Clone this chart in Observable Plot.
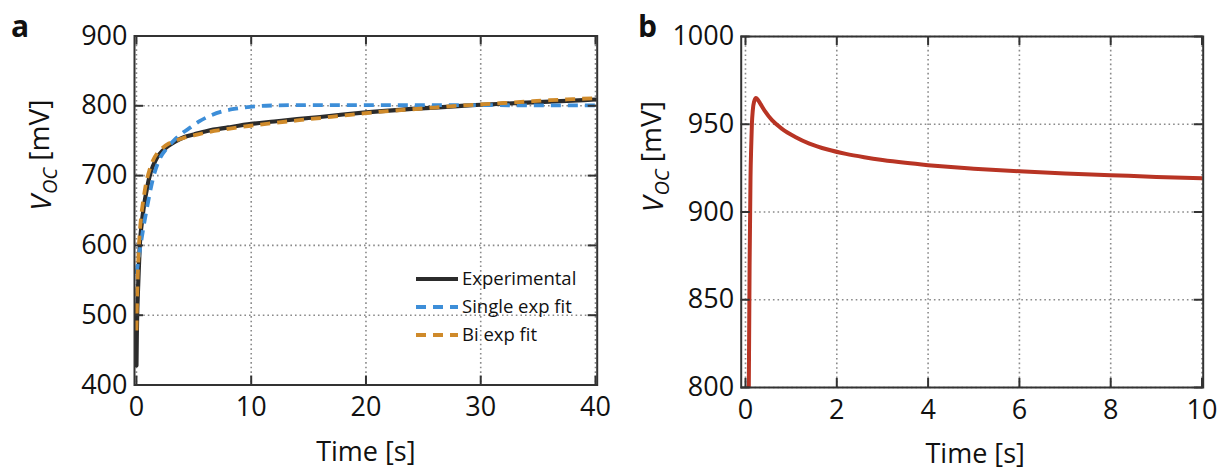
<!DOCTYPE html>
<html>
<head>
<meta charset="utf-8">
<script src="https://cdn.jsdelivr.net/npm/d3@7"></script>
<script src="https://cdn.jsdelivr.net/npm/@observablehq/plot@0.6"></script>
<style>
  body { margin: 0; background: #fff; }
  #wrap { display: flex; width: 1222px; height: 470px; }
  #wrap svg { display: block; }
</style>
</head>
<body>
<div id="wrap"></div>
<script>
// ---------- Tick labels ----------
const leftXTicks = [0, 10, 20, 30, 40];
const leftYTicks = [400, 500, 600, 700, 800, 900];
const rightXTicks = [0, 2, 4, 6, 8, 10];
const rightYTicks = [800, 850, 900, 950, 1000];

// ---------- Panel a: experimental ----------
const expTime = [0, 0.03, 0.06, 0.12, 0.2, 0.29, 0.45, 0.64, 0.9, 1.16, 1.45, 1.8, 2.3, 2.82, 3.4, 4.13, 5, 6.16, 8, 10, 12, 14, 16, 18, 20, 22, 24, 26, 28, 30, 32, 34, 36, 38, 40];
const expV    = [428, 470, 499, 530, 565, 600, 630, 655, 680, 700, 714, 726, 736, 743, 749, 755, 759, 764, 769, 774, 777.5, 781, 784, 787.5, 790.5, 793, 795.5, 797.5, 799.5, 801.5, 803, 804.5, 806, 807.5, 809];

// ---------- Panel a: single exponential fit ----------
const singleTime = [0, 0.35, 0.93, 1.51, 2.09, 2.6, 3.25, 4, 4.71, 5.5, 6.45, 7.61, 8.5, 9.35, 10.5, 12, 15, 20, 25, 30, 35, 40];
const singleV    = [559, 599, 655, 700, 726, 738, 750, 761, 769, 778, 786, 792.5, 795.5, 797.5, 799.5, 800.5, 801, 801, 801, 801, 800.5, 800.5];

// ---------- Panel a: bi-exponential fit ----------
const biTime = [0, 0.05, 0.12, 0.22, 0.4, 0.6, 0.85, 1.1, 1.45, 1.8, 2.3, 2.82, 3.4, 4.13, 5, 6.16, 8, 10, 12, 14, 16, 18, 20, 22, 24, 26, 28, 30, 32, 34, 36, 38, 40];
const biV    = [478, 520, 560, 600, 640, 665, 690, 706, 722, 732, 740, 746, 750, 754, 757.5, 762, 767, 771.5, 775.5, 779, 782.5, 786, 789.5, 792.5, 795, 797.5, 800, 802, 804, 806, 808, 809.5, 811];

// ---------- Panel b ----------
const bTime = [0.07, 0.09, 0.11, 0.125, 0.14, 0.16, 0.19, 0.23, 0.27, 0.33, 0.43, 0.58, 0.8, 1.09, 1.4, 1.8, 2.2, 2.6, 3, 3.5, 4, 4.5, 5, 6, 7, 8, 9, 10];
const bV    = [790, 870, 920, 937, 950, 958, 963, 965, 964, 961.5, 957.3, 952.3, 947.4, 942.8, 939, 935.6, 933.1, 931.2, 929.6, 928, 926.7, 925.6, 924.7, 923.2, 922, 921, 920, 919.2];

const seriesNames = ["Experimental", "Single exp fit", "Bi exp fit"];
const seriesColors = ["#2b2b2b", "#3d8ed8", "#cf8a2a"];

const zip = (ts, vs) => ts.map((t, i) => ({t, v: vs[i]}));

const FONT = "'Open Sans', 'DejaVu Sans', sans-serif";

function panel(o) {
  const innerH = 470 - o.marginTop - o.marginBottom;
  const innerW = 611 - o.marginLeft - o.marginRight;
  const fmt = d => String(d);
  const tickStyle = {stroke: "#333", strokeWidth: 2};
  const svg = Plot.plot({
    width: 611,
    height: 470,
    marginLeft: o.marginLeft,
    marginRight: o.marginRight,
    marginTop: o.marginTop,
    marginBottom: o.marginBottom,
    style: {fontFamily: FONT, fontSize: "27px", color: "#111", background: "#fff"},
    x: {domain: o.xDomain},
    y: {domain: o.yDomain},
    marks: [
      Plot.gridX(o.xTicks, {stroke: "#8a8a8a", strokeOpacity: 1, strokeWidth: 1.6, strokeDasharray: "1.6,3"}),
      Plot.gridY(o.yTicks, {stroke: "#8a8a8a", strokeOpacity: 1, strokeWidth: 1.6, strokeDasharray: "1.6,3"}),
      ...o.lines,
      // inward ticks on all four sides
      Plot.ruleX(o.xTicks, {x: d => d, insetTop: innerH - 9, ...tickStyle}),
      Plot.ruleX(o.xTicks, {x: d => d, insetBottom: innerH - 9, ...tickStyle}),
      Plot.ruleY(o.yTicks, {y: d => d, insetRight: innerW - 9, ...tickStyle}),
      Plot.ruleY(o.yTicks, {y: d => d, insetLeft: innerW - 9, ...tickStyle}),
      Plot.frame({stroke: "#333", strokeWidth: 2}),
      Plot.axisX(o.xTicks, {tickSize: 0, tickPadding: 12, tickFormat: fmt, label: null, fontSize: 27, fill: "#111"}),
      Plot.axisY(o.yTicks, {tickSize: 0, tickPadding: 7, tickFormat: fmt, label: null, fontSize: 27, fill: "#111"}),
      Plot.text(["Time [s]"], {text: d => d, frameAnchor: "bottom", dy: 67, dx: o.xlabelDx, fontSize: 27, fill: "#111", lineAnchor: "middle"}),
      Plot.text(["VOC [mV]"], {text: d => d, frameAnchor: "left", rotate: -90, dx: o.ylabelDx, fontSize: 28, fill: "#111", lineAnchor: "middle"})
    ]
  });
  // y label: italic V with italic subscript OC
  d3.select(svg).selectAll("text").filter(function() { return this.textContent === "VOC [mV]"; })
    .each(function() {
      const t = d3.select(this);
      t.text(null);
      t.append("tspan").attr("font-style", "italic").text("V");
      t.append("tspan").attr("font-style", "italic").attr("font-size", "20px").attr("dy", "0.3em").attr("dx", "1").text("OC");
      t.append("tspan").attr("dy", "-0.3em").attr("font-size", "28px").text(" [mV]");
    });
  // panel letter
  d3.select(svg).append("text")
    .attr("x", o.letterX).attr("y", 37).attr("text-anchor", "start")
    .attr("font-family", FONT).attr("font-weight", "bold").attr("font-size", 30).attr("fill", "#111")
    .text(o.letter);
  return svg;
}

const lineOpts = {x: "t", y: "v", curve: "monotone-x", clip: true, strokeLinejoin: "round"};

const left = panel({
  marginLeft: 134, marginRight: 14.3, marginTop: 35.5, marginBottom: 85.5,
  xDomain: [-0.17, 40.15], yDomain: [400, 900],
  xTicks: leftXTicks, yTicks: leftYTicks,
  ylabelDx: -92, xlabelDx: 0, letter: "a", letterX: 11,
  lines: [
    Plot.line(zip(expTime, expV), {...lineOpts, stroke: seriesColors[0], strokeWidth: 4.2}),
    Plot.line(zip(singleTime, singleV), {...lineOpts, stroke: seriesColors[1], strokeWidth: 3.8, strokeDasharray: "10,7", strokeLinecap: "butt"}),
    Plot.line(zip(biTime, biV), {...lineOpts, stroke: seriesColors[2], strokeWidth: 3.8, strokeDasharray: "10,7", strokeLinecap: "butt"})
  ]
});

// legend for panel a
const lg = d3.select(left).append("g").attr("font-family", FONT).attr("font-size", 18.5).attr("fill", "#111").attr("text-anchor", "start");
const legendY = [279, 307, 335];
seriesNames.forEach((name, i) => {
  lg.append("line")
    .attr("x1", 416).attr("x2", 458).attr("y1", legendY[i]).attr("y2", legendY[i])
    .attr("stroke", seriesColors[i]).attr("stroke-width", i === 0 ? 4.2 : 3.8)
    .attr("stroke-dasharray", i === 0 ? null : "10,7");
  lg.append("text").attr("x", 462).attr("y", legendY[i]).attr("dy", "0.35em").attr("text-anchor", "start").text(name);
});

const right = panel({
  marginLeft: 129.7, marginRight: 19.3, marginTop: 36, marginBottom: 83,
  xDomain: [-0.094, 10.026], yDomain: [800, 1000],
  xTicks: rightXTicks, yTicks: rightYTicks,
  ylabelDx: -87, xlabelDx: 3, letter: "b", letterX: 27,
  lines: [
    Plot.line(zip(bTime, bV), {...lineOpts, stroke: "#b83424", strokeWidth: 4})
  ]
});

const wrap = document.getElementById("wrap");
wrap.appendChild(left);
wrap.appendChild(right);
</script>
</body>
</html>
